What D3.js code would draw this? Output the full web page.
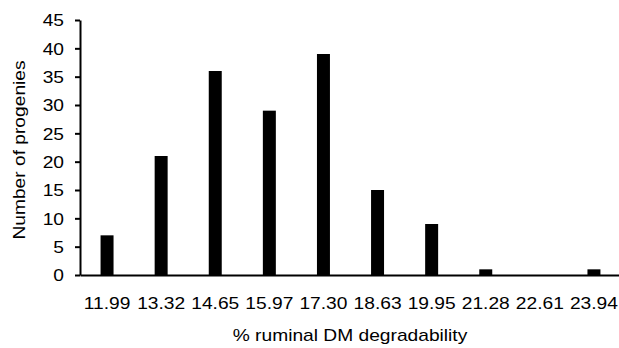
<!DOCTYPE html>
<html>
<head>
<meta charset="utf-8">
<script src="https://cdn.jsdelivr.net/npm/d3@7"></script>
<style>
  body { margin: 0; background: #fff; }
  svg text { font-family: "Liberation Sans", Arial, sans-serif; fill: #000; }
</style>
</head>
<body>
<div id="chart"></div>
<script>
// histogram of progenies per degradability class
const categories = ['11.99', '13.32', '14.65', '15.97', '17.30', '18.63', '19.95', '21.28', '22.61', '23.94'];
const counts = [7, 21, 36, 29, 39, 15, 9, 1, 0, 1];
const yTicks = [0, 5, 10, 15, 20, 25, 30, 35, 40, 45];
const xTitle = '% ruminal DM degradability';
const yTitle = 'Number of progenies';

const width = 619, height = 348;
const stretch = 1.2; // glyphs in the source are wider than Arial

const svg = d3.select('#chart').append('svg')
  .attr('width', width)
  .attr('height', height);

const x = d3.scaleBand()
  .domain(categories)
  .range([80, 621])
  .paddingInner(0.76)
  .paddingOuter(0.38);

const y = d3.scaleLinear()
  .domain([0, 45])
  .range([275, 20]);

// bars
svg.selectAll('.bar')
  .data(counts)
  .enter().append('rect')
    .attr('class', 'bar')
    .attr('x', (d, i) => x(categories[i]))
    .attr('y', d => y(d))
    .attr('width', x.bandwidth())
    .attr('height', d => y(0) - y(d))
    .attr('fill', '#000');

// y axis
const gy = svg.append('g')
  .attr('transform', 'translate(80,0)')
  .call(d3.axisLeft(y).tickValues(yTicks).tickSize(5).tickSizeOuter(0));
gy.select('.domain').attr('stroke-width', 2);
gy.selectAll('.tick line').attr('stroke-width', 2);
gy.selectAll('.tick text')
  .attr('x', 0)
  .attr('dy', '0.36em')
  .attr('transform', `translate(-16,0) scale(${stretch},1)`)
  .style('font-size', '16px');

// x axis
const gx = svg.append('g')
  .attr('transform', 'translate(0,' + y(0) + ')')
  .call(d3.axisBottom(x).tickSize(0).tickSizeOuter(0));
gx.select('.domain').attr('stroke-width', 2);
gx.selectAll('.tick text')
  .attr('y', 34)
  .attr('dy', 0)
  .attr('transform', `scale(${stretch},1)`)
  .style('font-size', '16px');

// titles
svg.append('text')
  .attr('text-anchor', 'middle')
  .attr('transform', `translate(350,341) scale(${stretch},1)`)
  .style('font-size', '16px')
  .text(xTitle);

svg.append('text')
  .attr('text-anchor', 'middle')
  .attr('transform', `translate(25,150) rotate(-90) scale(${stretch},1)`)
  .style('font-size', '16px')
  .text(yTitle);
</script>
</body>
</html>
